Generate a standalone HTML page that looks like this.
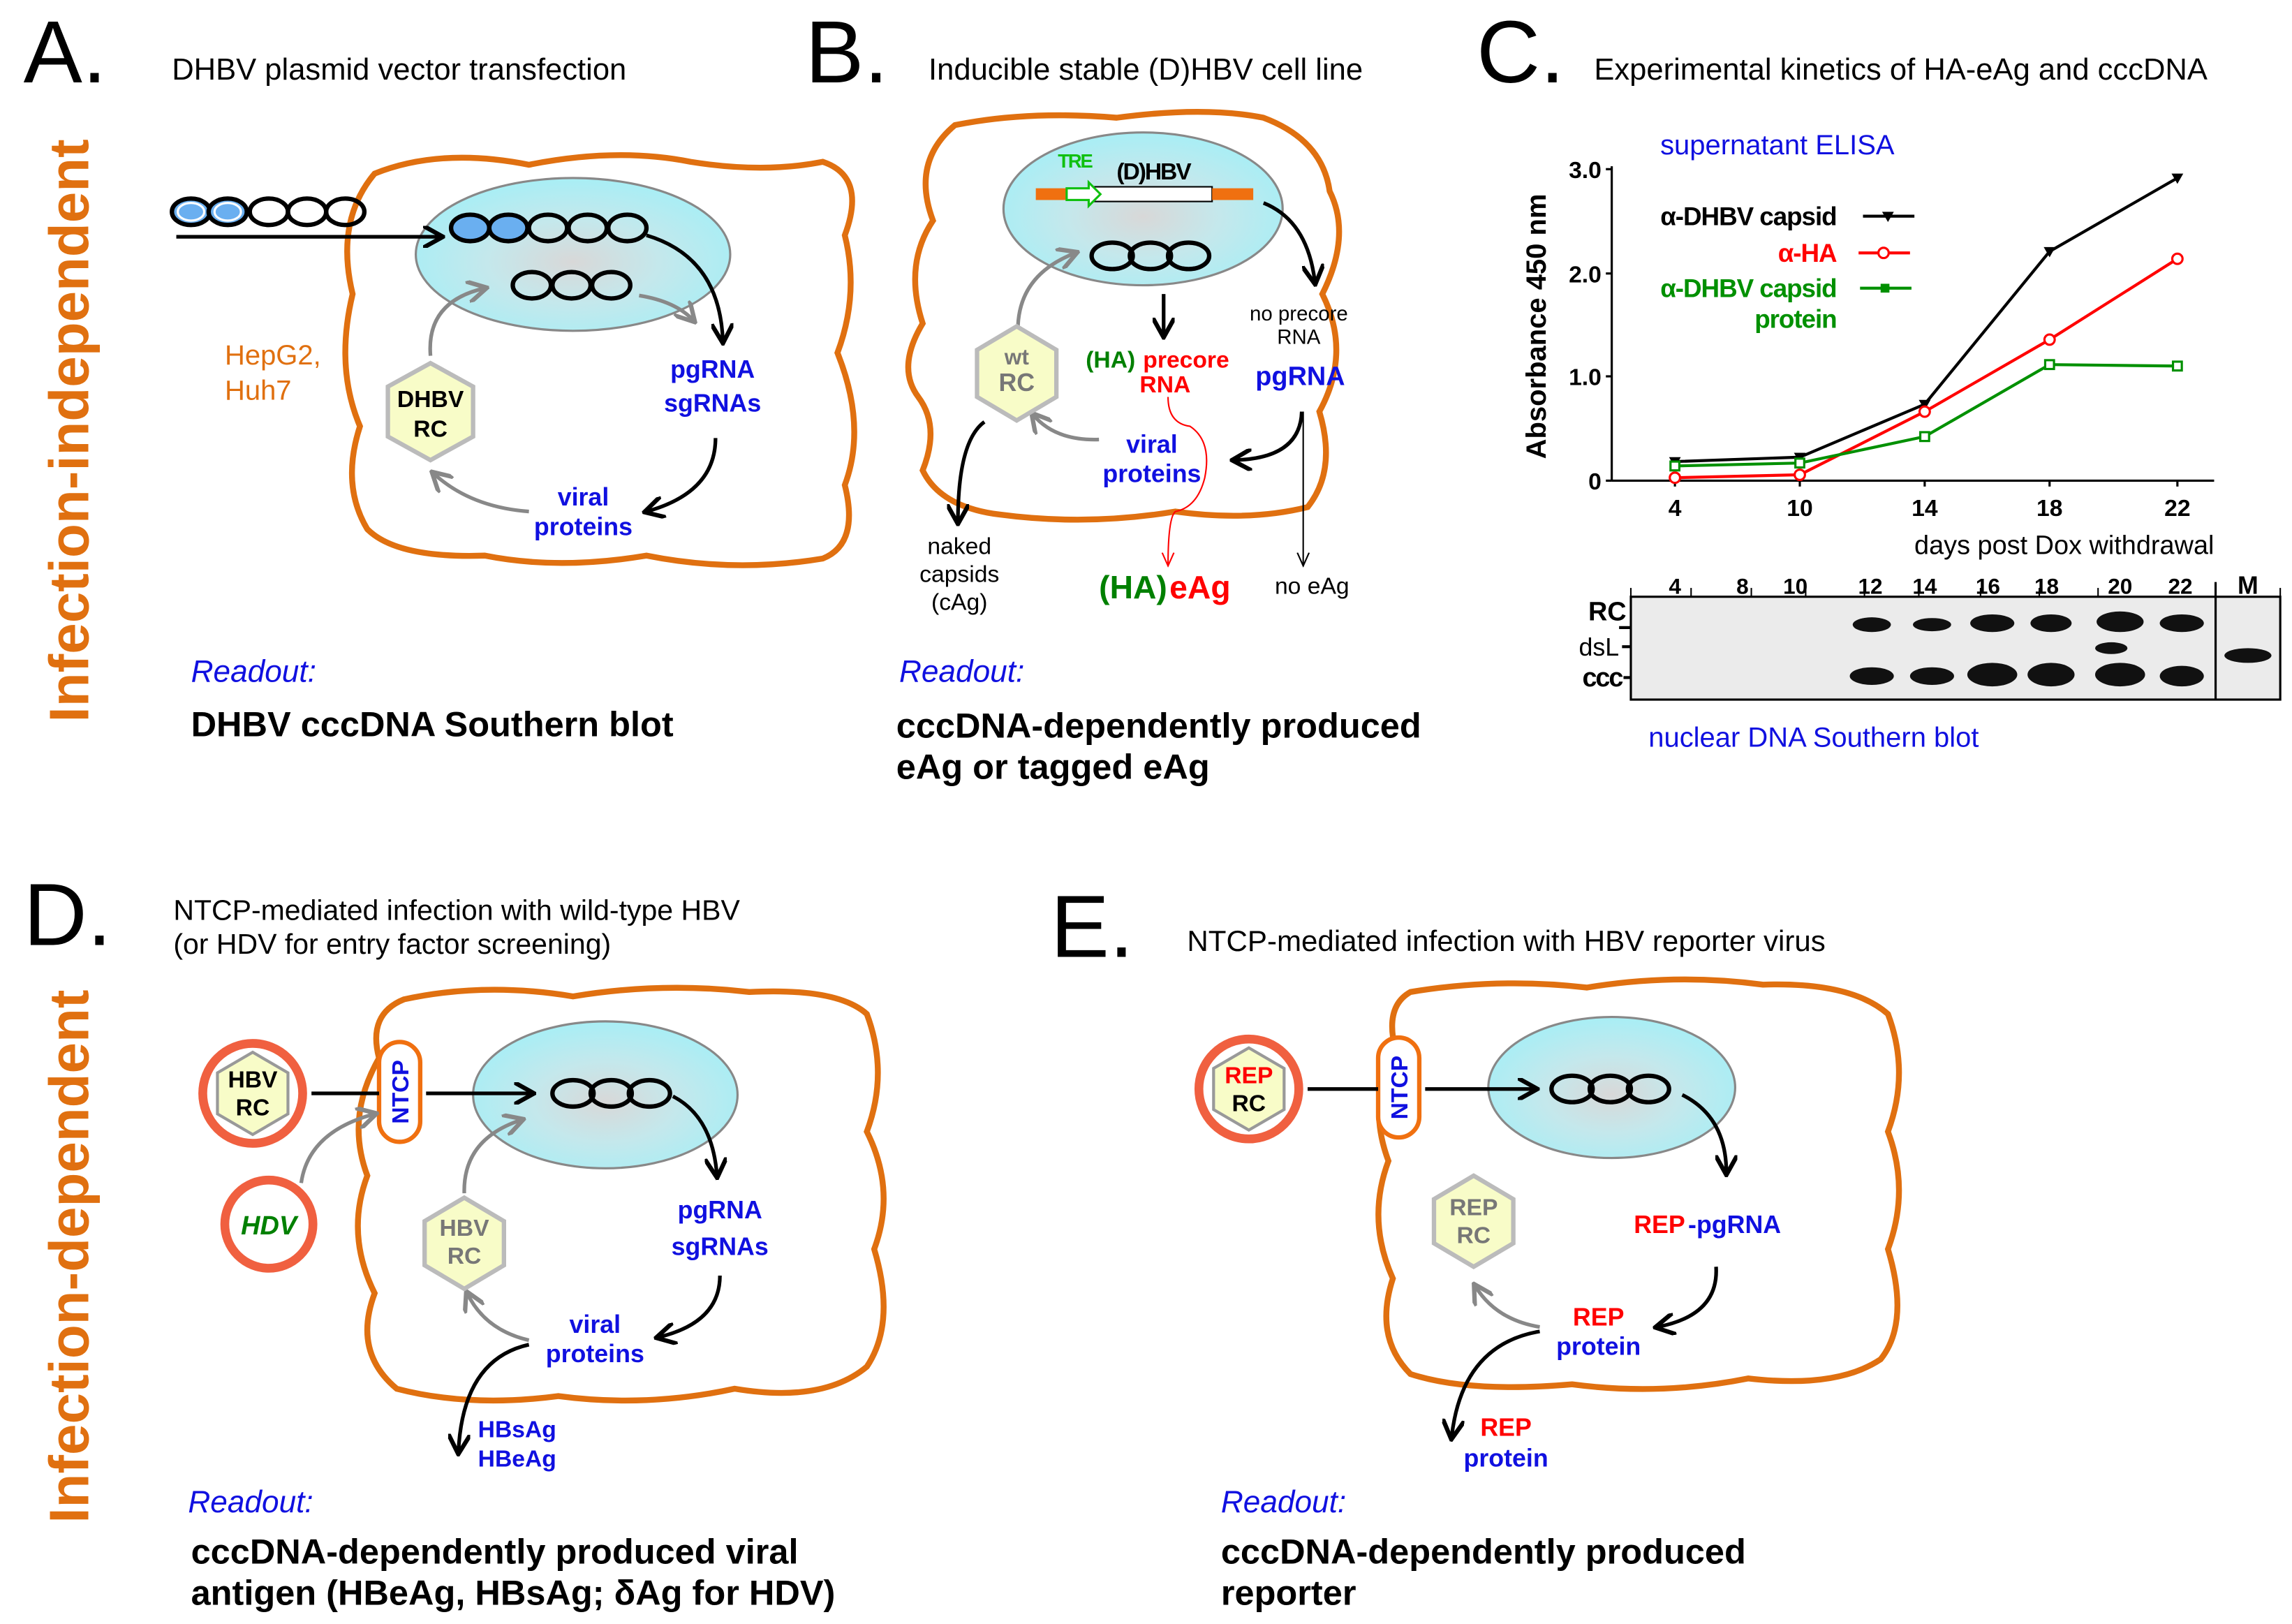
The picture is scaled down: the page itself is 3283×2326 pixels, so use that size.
<!DOCTYPE html>
<html><head><meta charset="utf-8"><style>
html,body{margin:0;padding:0;background:#fff}
svg{display:block}
text{font-family:"Liberation Sans",Arial,sans-serif}
.b{font-weight:bold}
</style></head><body>
<svg width="3283" height="2326" viewBox="0 0 1560 1105" xmlns="http://www.w3.org/2000/svg">
<defs>
<radialGradient id="nuc" cx="50%" cy="55%" r="55%">
<stop offset="0" stop-color="#d8d8d8"/><stop offset="0.5" stop-color="#c4e8ec"/><stop offset="1" stop-color="#a8eef5"/>
</radialGradient>
<marker id="ak" viewBox="0 0 10 10" refX="8" refY="5" markerWidth="6" markerHeight="6" orient="auto"><path d="M0,0 L9,5 L0,10" fill="none" stroke="#000" stroke-width="2"/></marker>
<marker id="ag" viewBox="0 0 10 10" refX="8" refY="5" markerWidth="6" markerHeight="6" orient="auto"><path d="M0,0 L9,5 L0,10" fill="none" stroke="#888" stroke-width="2"/></marker>
<marker id="at" viewBox="0 0 10 10" refX="9" refY="5" markerWidth="10" markerHeight="10" orient="auto"><path d="M0,1 L9,5 L0,9" fill="none" stroke="#000" stroke-width="1"/></marker>
<marker id="ar" viewBox="0 0 10 10" refX="9" refY="5" markerWidth="10" markerHeight="10" orient="auto"><path d="M0,1 L9,5 L0,9" fill="none" stroke="#f00" stroke-width="1"/></marker>
</defs>

<!-- side labels -->
<text class="b" x="0" y="0" font-size="38" fill="#e07010" text-anchor="middle" transform="translate(60,293) rotate(-90)">Infection-independent</text>
<text class="b" x="0" y="0" font-size="38" fill="#e07010" text-anchor="middle" transform="translate(60,855) rotate(-90)">Infection-dependent</text>

<!-- ===== A ===== -->
<text x="16" y="56" font-size="60">A.</text>
<text x="117" y="54" font-size="20.7">DHBV plasmid vector transfection</text>
<path d="M255,118 Q300,100 360,112 Q420,100 470,110 Q520,118 560,110 Q590,120 575,160 Q585,200 570,240 Q590,290 575,330 Q585,370 560,380 Q500,390 440,378 Q380,388 330,378 Q270,380 250,360 Q232,330 245,290 Q228,250 240,200 Q228,150 255,118 Z" fill="none" stroke="#e07010" stroke-width="4"/>
<ellipse cx="390" cy="173" rx="107" ry="52" fill="url(#nuc)" stroke="#888" stroke-width="1.5"/>
<g fill="none" stroke-width="3">
<ellipse cx="130" cy="144" rx="13" ry="9" stroke="#000" fill="#6aaff0"/><ellipse cx="130" cy="144" rx="9" ry="6" stroke="#fff" stroke-width="1.5"/>
<ellipse cx="155" cy="144" rx="13" ry="9" stroke="#000" fill="#6aaff0"/><ellipse cx="155" cy="144" rx="9" ry="6" stroke="#fff" stroke-width="1.5"/>
<ellipse cx="183" cy="144" rx="13" ry="9" stroke="#000"/><ellipse cx="209" cy="144" rx="13" ry="9" stroke="#000"/><ellipse cx="235" cy="144" rx="13" ry="9" stroke="#000"/>
<ellipse cx="320" cy="155" rx="13" ry="9" stroke="#000" fill="#6aaff0"/><ellipse cx="346" cy="155" rx="13" ry="9" stroke="#000" fill="#6aaff0"/>
<ellipse cx="373" cy="155" rx="13" ry="9" stroke="#000"/><ellipse cx="400" cy="155" rx="13" ry="9" stroke="#000"/><ellipse cx="427" cy="155" rx="13" ry="9" stroke="#000"/>
<ellipse cx="362" cy="194" rx="13" ry="9" stroke="#000"/><ellipse cx="389" cy="194" rx="13" ry="9" stroke="#000"/><ellipse cx="416" cy="194" rx="13" ry="9" stroke="#000"/>
</g>
<line x1="120" y1="161" x2="300" y2="161" stroke="#000" stroke-width="2.5" marker-end="url(#ak)"/>
<path d="M440,160 Q490,175 492,232" fill="none" stroke="#000" stroke-width="2.5" marker-end="url(#ak)"/>
<path d="M435,201 Q460,205 472,218" fill="none" stroke="#888" stroke-width="2.5" marker-end="url(#ag)"/>
<path d="M293,242 Q290,205 330,196" fill="none" stroke="#888" stroke-width="2.5" marker-end="url(#ag)"/>
<path d="M487,298 Q487,335 440,348" fill="none" stroke="#000" stroke-width="2.5" marker-end="url(#ak)"/>
<path d="M360,348 Q320,345 295,322" fill="none" stroke="#888" stroke-width="2.5" marker-end="url(#ag)"/>
<polygon points="293,247 322,263 322,297 293,313 264,297 264,263" fill="#f8fcc8" stroke="#bbb" stroke-width="3"/>
<text class="b" x="293" y="277" font-size="16" text-anchor="middle">DHBV</text>
<text class="b" x="293" y="297" font-size="16" text-anchor="middle">RC</text>
<text x="153" y="248" font-size="19" fill="#e07010">HepG2,</text>
<text x="153" y="272" font-size="19" fill="#e07010">Huh7</text>
<text class="b" x="485" y="257" font-size="17" fill="#1010e0" text-anchor="middle">pgRNA</text>
<text class="b" x="485" y="280" font-size="17" fill="#1010e0" text-anchor="middle">sgRNAs</text>
<text class="b" x="397" y="344" font-size="17" fill="#1010e0" text-anchor="middle">viral</text>
<text class="b" x="397" y="364" font-size="17" fill="#1010e0" text-anchor="middle">proteins</text>
<text x="130" y="464" font-size="21" font-style="italic" fill="#1010e0">Readout:</text>
<text class="b" x="130" y="501" font-size="24">DHBV cccDNA Southern blot</text>

<!-- ===== B ===== -->
<text x="548" y="56" font-size="60">B.</text>
<text x="632" y="54" font-size="20.7">Inducible stable (D)HBV cell line</text>
<path d="M650,85 Q700,75 760,80 Q820,72 860,80 Q900,95 905,130 Q920,160 900,200 Q920,240 898,280 Q910,320 890,345 Q850,355 800,348 Q740,358 680,350 Q640,345 628,320 Q640,290 625,270 Q610,250 628,220 Q615,180 635,150 Q620,110 650,85 Z" fill="none" stroke="#e07010" stroke-width="4"/>
<ellipse cx="778" cy="142" rx="95" ry="52" fill="url(#nuc)" stroke="#888" stroke-width="1.5"/>
<rect x="705" y="128" width="120" height="8" fill="#f07010"/>
<rect x="745" y="127" width="80" height="10" fill="#fff" stroke="#000" stroke-width="1"/>
<rect x="825" y="128" width="28" height="8" fill="#f07010"/>
<path d="M726,128 L741,128 L741,124 L749,132 L741,140 L741,136 L726,136 Z" fill="#fff" stroke="#10c010" stroke-width="1.5"/>
<text class="b" x="720" y="114" font-size="13" fill="#10c010" letter-spacing="-1">TRE</text>
<text class="b" x="760" y="122" font-size="16" letter-spacing="-1">(D)HBV</text>
<g fill="none" stroke="#000" stroke-width="3"><ellipse cx="757" cy="174" rx="14" ry="9"/><ellipse cx="783" cy="174" rx="14" ry="9"/><ellipse cx="809" cy="174" rx="14" ry="9"/></g>
<line x1="792" y1="200" x2="792" y2="228" stroke="#000" stroke-width="2.5" marker-end="url(#ak)"/>
<path d="M860,138 Q890,150 895,192" fill="none" stroke="#000" stroke-width="2.5" marker-end="url(#ak)"/>
<path d="M693,230 Q690,188 732,172" fill="none" stroke="#888" stroke-width="2.5" marker-end="url(#ag)"/>
<path d="M748,299 Q718,300 703,282" fill="none" stroke="#888" stroke-width="2.5" marker-end="url(#ag)"/>
<path d="M886,280 Q885,312 840,313" fill="none" stroke="#000" stroke-width="2.5" marker-end="url(#ak)"/>
<path d="M670,287 Q652,300 652,355" fill="none" stroke="#000" stroke-width="2.5" marker-end="url(#ak)"/>
<line x1="887" y1="280" x2="887" y2="385" stroke="#000" stroke-width="1" marker-end="url(#at)"/>
<path d="M795,270 Q795,288 810,290 Q825,300 820,325 Q815,345 800,348 Q795,352 795,385" fill="none" stroke="#f00" stroke-width="1" marker-end="url(#ar)"/>
<polygon points="692,222 719,238 719,270 692,286 665,270 665,238" fill="#f8fcc8" stroke="#bbb" stroke-width="3"/>
<text class="b" x="692" y="248" font-size="15" fill="#777" text-anchor="middle">wt</text>
<text class="b" x="692" y="266" font-size="17" fill="#777" text-anchor="middle">RC</text>
<text x="884" y="218" font-size="14" text-anchor="middle">no precore</text>
<text x="884" y="234" font-size="14" text-anchor="middle">RNA</text>
<text class="b" x="739" y="250" font-size="16" fill="#008000">(HA)</text><text class="b" x="778" y="250" font-size="16" fill="#f00">precore</text>
<text class="b" x="793" y="267" font-size="16" fill="#f00" text-anchor="middle">RNA</text>
<text class="b" x="885" y="262" font-size="18" fill="#1010e0" text-anchor="middle">pgRNA</text>
<text class="b" x="784" y="308" font-size="17" fill="#1010e0" text-anchor="middle">viral</text>
<text class="b" x="784" y="328" font-size="17" fill="#1010e0" text-anchor="middle">proteins</text>
<text x="653" y="377" font-size="16" text-anchor="middle">naked</text>
<text x="653" y="396" font-size="16" text-anchor="middle">capsids</text>
<text x="653" y="415" font-size="16" text-anchor="middle">(cAg)</text>
<text class="b" x="748" y="407" font-size="22" fill="#008000">(HA)</text><text class="b" x="796" y="407" font-size="22" fill="#f00">eAg</text>
<text x="893" y="404" font-size="16" text-anchor="middle">no eAg</text>
<text x="612" y="464" font-size="21" font-style="italic" fill="#1010e0">Readout:</text>
<text class="b" x="610" y="502" font-size="24">cccDNA-dependently produced</text>
<text class="b" x="610" y="530" font-size="24">eAg or tagged eAg</text>

<!-- ===== C ===== -->
<text x="1005" y="56" font-size="60">C.</text>
<text x="1085" y="54" font-size="20.7">Experimental kinetics of HA-eAg and cccDNA</text>
<text x="1130" y="105" font-size="19" fill="#1010e0">supernatant ELISA</text>
<text class="b" x="0" y="0" font-size="19" text-anchor="middle" transform="translate(1052,222) rotate(-90)">Absorbance 450 nm</text>
<line x1="1097" y1="113" x2="1097" y2="327" stroke="#000" stroke-width="1.5"/>
<line x1="1097" y1="327" x2="1507" y2="327" stroke="#000" stroke-width="1.5"/>
<g stroke="#000" stroke-width="1.5"><line x1="1093" y1="115" x2="1097" y2="115"/><line x1="1093" y1="186" x2="1097" y2="186"/><line x1="1093" y1="256" x2="1097" y2="256"/><line x1="1093" y1="327" x2="1097" y2="327"/>
<line x1="1140" y1="327" x2="1140" y2="331"/><line x1="1225" y1="327" x2="1225" y2="331"/><line x1="1310" y1="327" x2="1310" y2="331"/><line x1="1395" y1="327" x2="1395" y2="331"/><line x1="1482" y1="327" x2="1482" y2="331"/></g>
<g class="b" font-size="16" text-anchor="end"><text x="1090" y="121">3.0</text><text x="1090" y="192">2.0</text><text x="1090" y="262">1.0</text><text x="1090" y="333">0</text></g>
<g class="b" font-size="16" text-anchor="middle"><text x="1140" y="351">4</text><text x="1225" y="351">10</text><text x="1310" y="351">14</text><text x="1395" y="351">18</text><text x="1482" y="351">22</text></g>
<text x="1507" y="377" font-size="18" text-anchor="end">days post Dox withdrawal</text>
<polyline points="1140,314 1225,311 1310,275 1395,171 1482,121" fill="none" stroke="#000" stroke-width="2"/>
<polyline points="1140,325 1225,323 1310,280 1395,231 1482,176" fill="none" stroke="#f00" stroke-width="2"/>
<polyline points="1140,317 1225,315 1310,297 1395,248 1482,249" fill="none" stroke="#009000" stroke-width="2"/>
<g fill="#000"><path d="M1136,311 L1144,311 L1140,318Z"/><path d="M1221,308 L1229,308 L1225,315Z"/><path d="M1306,272 L1314,272 L1310,279Z"/><path d="M1391,168 L1399,168 L1395,175Z"/><path d="M1478,118 L1486,118 L1482,125Z"/></g>
<g fill="#fff" stroke="#f00" stroke-width="1.5"><circle cx="1140" cy="325" r="3.5"/><circle cx="1225" cy="323" r="3.5"/><circle cx="1310" cy="280" r="3.5"/><circle cx="1395" cy="231" r="3.5"/><circle cx="1482" cy="176" r="3.5"/></g>
<g fill="#fff" stroke="#009000" stroke-width="1.5"><rect x="1137" y="314" width="6" height="6"/><rect x="1222" y="312" width="6" height="6"/><rect x="1307" y="294" width="6" height="6"/><rect x="1392" y="245" width="6" height="6"/><rect x="1479" y="246" width="6" height="6"/></g>
<text class="b" x="1250" y="153" font-size="17.5" text-anchor="end" letter-spacing="-0.5">α-DHBV capsid</text>
<line x1="1268" y1="147" x2="1303" y2="147" stroke="#000" stroke-width="2"/><path d="M1281,144 L1289,144 L1285,151Z"/>
<text class="b" x="1250" y="178" font-size="17.5" text-anchor="end" fill="#f00" letter-spacing="-0.5">α-HA</text>
<line x1="1265" y1="172" x2="1300" y2="172" stroke="#f00" stroke-width="2"/><circle cx="1282" cy="172" r="3.5" fill="#fff" stroke="#f00" stroke-width="1.5"/>
<text class="b" x="1250" y="202" font-size="17.5" text-anchor="end" fill="#009000" letter-spacing="-0.5">α-DHBV capsid</text>
<text class="b" x="1250" y="223" font-size="17.5" text-anchor="end" fill="#009000" letter-spacing="-0.5">protein</text>
<line x1="1266" y1="196" x2="1301" y2="196" stroke="#009000" stroke-width="2"/><rect x="1280" y="193" width="6" height="6" fill="#009000"/>
<!-- blot -->
<rect x="1110" y="406" width="442" height="70" fill="#ebebeb" stroke="#000" stroke-width="1.5"/>
<line x1="1508" y1="396" x2="1508" y2="476" stroke="#000" stroke-width="1.5"/>
<line x1="1110" y1="406" x2="1110" y2="400" stroke="#000"/>
<g stroke="#000" stroke-width="1"><line x1="1151" y1="400" x2="1151" y2="406"/><line x1="1192" y1="400" x2="1192" y2="406"/><line x1="1229" y1="400" x2="1229" y2="406"/><line x1="1269" y1="400" x2="1269" y2="406"/><line x1="1306" y1="400" x2="1306" y2="406"/><line x1="1348" y1="400" x2="1348" y2="406"/><line x1="1388" y1="400" x2="1388" y2="406"/><line x1="1428" y1="400" x2="1428" y2="406"/><line x1="1552" y1="400" x2="1552" y2="406"/></g>
<g class="b" font-size="15" text-anchor="middle"><text x="1140" y="404">4</text><text x="1186" y="404">8</text><text x="1222" y="404">10</text><text x="1273" y="404">12</text><text x="1310" y="404">14</text><text x="1353" y="404">16</text><text x="1393" y="404">18</text><text x="1443" y="404">20</text><text x="1484" y="404">22</text><text x="1530" y="404" font-size="17">M</text></g>
<g fill="#111"><ellipse cx="1274" cy="425" rx="13" ry="5"/><ellipse cx="1315" cy="425" rx="13" ry="4.5"/><ellipse cx="1356" cy="424" rx="15" ry="6"/><ellipse cx="1396" cy="424" rx="14" ry="6"/><ellipse cx="1443" cy="423" rx="16" ry="7"/><ellipse cx="1485" cy="424" rx="15" ry="6"/>
<ellipse cx="1274" cy="460" rx="15" ry="6"/><ellipse cx="1315" cy="460" rx="15" ry="6"/><ellipse cx="1356" cy="459" rx="17" ry="8"/><ellipse cx="1396" cy="459" rx="16" ry="8"/><ellipse cx="1443" cy="459" rx="17" ry="8"/><ellipse cx="1485" cy="460" rx="15" ry="7"/>
<ellipse cx="1437" cy="441" rx="11" ry="4"/><ellipse cx="1530" cy="446" rx="16" ry="5"/></g>
<text class="b" x="1107" y="422" font-size="18" text-anchor="end">RC</text>
<text x="1102" y="446" font-size="17" text-anchor="end">dsL</text>
<text class="b" x="1104" y="467" font-size="18" text-anchor="end" letter-spacing="-1">ccc</text>
<g stroke="#000" stroke-width="2"><line x1="1102" y1="427" x2="1110" y2="427"/><line x1="1104" y1="440" x2="1110" y2="440"/><line x1="1105" y1="461" x2="1110" y2="461"/></g>
<text x="1122" y="508" font-size="19" fill="#1010e0">nuclear DNA Southern blot</text>

<!-- ===== D ===== -->
<text x="16" y="643" font-size="60">D.</text>
<text x="118" y="626" font-size="19.5">NTCP-mediated infection with wild-type HBV</text>
<text x="118" y="649" font-size="19.5">(or HDV for entry factor screening)</text>
<path d="M275,680 Q330,668 390,678 Q450,668 510,675 Q570,672 590,690 Q605,730 590,770 Q610,810 595,850 Q610,900 590,930 Q560,955 500,945 Q440,958 380,950 Q320,958 270,945 Q240,920 255,880 Q235,840 250,800 Q235,760 258,720 Q250,690 275,680 Z" fill="none" stroke="#e07010" stroke-width="4"/>
<ellipse cx="412" cy="745" rx="90" ry="50" fill="url(#nuc)" stroke="#888" stroke-width="1.5"/>
<rect x="258" y="709" width="28" height="68" rx="14" fill="#fff" stroke="#f07010" stroke-width="3"/>
<text class="b" x="0" y="0" font-size="16" fill="#1010e0" text-anchor="middle" transform="translate(278,743) rotate(-90)">NTCP</text>
<circle cx="172" cy="744" r="34" fill="#fff" stroke="#f06040" stroke-width="6"/>
<polygon points="172,716 196,730 196,758 172,772 148,758 148,730" fill="#f8fcc8" stroke="#999" stroke-width="2"/>
<text class="b" x="172" y="740" font-size="16" text-anchor="middle">HBV</text>
<text class="b" x="172" y="759" font-size="16" text-anchor="middle">RC</text>
<circle cx="183" cy="833" r="30" fill="#fff" stroke="#f06040" stroke-width="6"/>
<text class="b" x="183" y="840" font-size="18" fill="#008000" font-style="italic" text-anchor="middle">HDV</text>
<line x1="212" y1="744" x2="258" y2="744" stroke="#000" stroke-width="2.5"/>
<line x1="290" y1="744" x2="362" y2="744" stroke="#000" stroke-width="2.5" marker-end="url(#ak)"/>
<path d="M205,805 Q210,770 255,758" fill="none" stroke="#888" stroke-width="2.5" marker-end="url(#ag)"/>
<g fill="none" stroke="#000" stroke-width="3"><ellipse cx="390" cy="744" rx="14" ry="9"/><ellipse cx="416" cy="744" rx="14" ry="9"/><ellipse cx="442" cy="744" rx="14" ry="9"/></g>
<path d="M458,746 Q485,760 488,800" fill="none" stroke="#000" stroke-width="2.5" marker-end="url(#ak)"/>
<path d="M316,812 Q315,775 355,762" fill="none" stroke="#888" stroke-width="2.5" marker-end="url(#ag)"/>
<path d="M490,868 Q490,900 448,910" fill="none" stroke="#000" stroke-width="2.5" marker-end="url(#ak)"/>
<path d="M360,912 Q330,905 318,880" fill="none" stroke="#888" stroke-width="2.5" marker-end="url(#ag)"/>
<path d="M360,915 Q315,925 312,988" fill="none" stroke="#000" stroke-width="2.5" marker-end="url(#ak)"/>
<polygon points="316,815 343,831 343,861 316,877 289,861 289,831" fill="#f8fcc8" stroke="#bbb" stroke-width="3"/>
<text class="b" x="316" y="841" font-size="16" fill="#777" text-anchor="middle">HBV</text>
<text class="b" x="316" y="860" font-size="16" fill="#777" text-anchor="middle">RC</text>
<text class="b" x="490" y="829" font-size="17" fill="#1010e0" text-anchor="middle">pgRNA</text>
<text class="b" x="490" y="854" font-size="17" fill="#1010e0" text-anchor="middle">sgRNAs</text>
<text class="b" x="405" y="907" font-size="17" fill="#1010e0" text-anchor="middle">viral</text>
<text class="b" x="405" y="927" font-size="17" fill="#1010e0" text-anchor="middle">proteins</text>
<text class="b" x="352" y="978" font-size="16" fill="#1010e0" text-anchor="middle">HBsAg</text>
<text class="b" x="352" y="998" font-size="16" fill="#1010e0" text-anchor="middle">HBeAg</text>
<text x="128" y="1029" font-size="21" font-style="italic" fill="#1010e0">Readout:</text>
<text class="b" x="130" y="1064" font-size="24">cccDNA-dependently produced viral</text>
<text class="b" x="130" y="1092" font-size="24">antigen (HBeAg, HBsAg; δAg for HDV)</text>

<!-- ===== E ===== -->
<text x="715" y="651" font-size="60">E.</text>
<text x="808" y="647" font-size="20">NTCP-mediated infection with HBV reporter virus</text>
<path d="M960,675 Q1020,665 1080,672 Q1140,662 1200,670 Q1260,668 1285,690 Q1300,730 1285,770 Q1300,810 1285,850 Q1300,900 1280,925 Q1250,945 1190,938 Q1130,950 1070,942 Q1000,948 960,935 Q935,910 948,870 Q930,830 945,790 Q930,750 950,715 Q942,685 960,675 Z" fill="none" stroke="#e07010" stroke-width="4"/>
<ellipse cx="1097" cy="740" rx="84" ry="48" fill="url(#nuc)" stroke="#888" stroke-width="1.5"/>
<rect x="938" y="706" width="28" height="68" rx="14" fill="#fff" stroke="#f07010" stroke-width="3"/>
<text class="b" x="0" y="0" font-size="16" fill="#1010e0" text-anchor="middle" transform="translate(958,740) rotate(-90)">NTCP</text>
<circle cx="850" cy="741" r="34" fill="#fff" stroke="#f06040" stroke-width="6"/>
<polygon points="850,713 874,727 874,755 850,769 826,755 826,727" fill="#f8fcc8" stroke="#999" stroke-width="2"/>
<text class="b" x="850" y="737" font-size="16" fill="#f00" text-anchor="middle">REP</text>
<text class="b" x="850" y="756" font-size="16" text-anchor="middle">RC</text>
<line x1="890" y1="741" x2="938" y2="741" stroke="#000" stroke-width="2.5"/>
<line x1="970" y1="741" x2="1045" y2="741" stroke="#000" stroke-width="2.5" marker-end="url(#ak)"/>
<g fill="none" stroke="#000" stroke-width="3"><ellipse cx="1070" cy="741" rx="14" ry="9"/><ellipse cx="1096" cy="741" rx="14" ry="9"/><ellipse cx="1122" cy="741" rx="14" ry="9"/></g>
<path d="M1145,745 Q1175,760 1175,798" fill="none" stroke="#000" stroke-width="2.5" marker-end="url(#ak)"/>
<path d="M1168,862 Q1170,895 1128,903" fill="none" stroke="#000" stroke-width="2.5" marker-end="url(#ak)"/>
<path d="M1048,903 Q1018,898 1004,875" fill="none" stroke="#888" stroke-width="2.5" marker-end="url(#ag)"/>
<path d="M1048,906 Q995,915 988,978" fill="none" stroke="#000" stroke-width="2.5" marker-end="url(#ak)"/>
<polygon points="1003,800 1030,816 1030,846 1003,862 976,846 976,816" fill="#f8fcc8" stroke="#bbb" stroke-width="3"/>
<text class="b" x="1003" y="827" font-size="16" fill="#777" text-anchor="middle">REP</text>
<text class="b" x="1003" y="846" font-size="16" fill="#777" text-anchor="middle">RC</text>
<text class="b" x="1112" y="839" font-size="17" fill="#f00">REP</text><text class="b" x="1149" y="839" font-size="17" fill="#1010e0">-pgRNA</text>
<text class="b" x="1088" y="902" font-size="17" fill="#f00" text-anchor="middle">REP</text>
<text class="b" x="1088" y="922" font-size="17" fill="#1010e0" text-anchor="middle">protein</text>
<text class="b" x="1025" y="977" font-size="17" fill="#f00" text-anchor="middle">REP</text>
<text class="b" x="1025" y="998" font-size="17" fill="#1010e0" text-anchor="middle">protein</text>
<text x="831" y="1029" font-size="21" font-style="italic" fill="#1010e0">Readout:</text>
<text class="b" x="831" y="1064" font-size="24">cccDNA-dependently produced</text>
<text class="b" x="831" y="1092" font-size="24">reporter</text>
</svg>
</body></html>
